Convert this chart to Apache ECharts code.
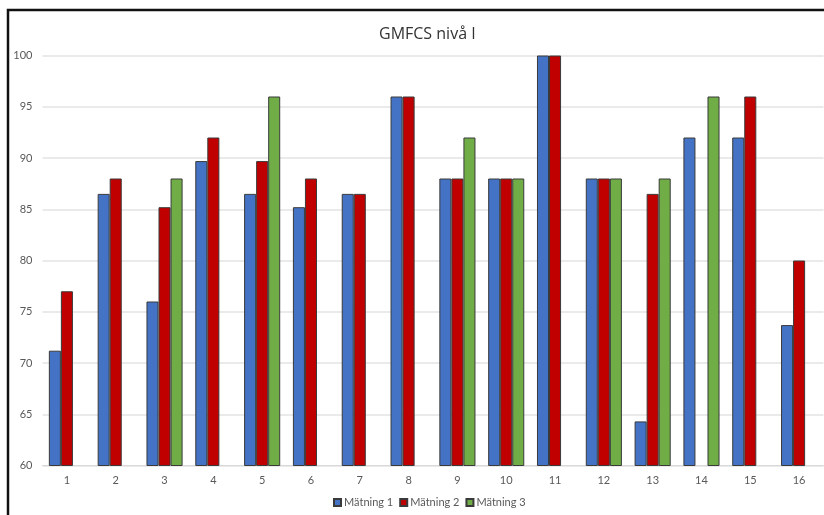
<!DOCTYPE html>
<html>
<head>
<meta charset="utf-8">
<script src="https://cdn.jsdelivr.net/npm/echarts@6/dist/echarts.min.js"></script>
<style>
  html, body { margin: 0; padding: 0; background: #ffffff; }
  #chart { width: 824px; height: 515px; }
</style>
</head>
<body>
<div id="chart"></div>
<script>
// Categories (participants) and the three measurement rounds
var categories = ['1','2','3','4','5','6','7','8','9','10','11','12','13','14','15','16'];
var matning1 = [71.2, 86.5, 76.0, 89.7, 86.5, 85.2, 86.5, 96.0, 88.0, 88.0, 100, 88.0, 64.3, 92.0, 92.0, 73.7];
var matning2 = [77.0, 88.0, 85.2, 92.0, 89.7, 88.0, 86.5, 96.0, 88.0, 88.0, 100, 88.0, 86.5, null, 96.0, 80.0];
var matning3 = [null, null, 88.0, null, 96.0, null, null, null, 92.0, 88.0, null, 88.0, 88.0, 96.0, null, null];
var seriesNames = ['Mätning 1', 'Mätning 2', 'Mätning 3'];
var colors = ['#4472C4', '#C00000', '#70AD47'];

var fontFamily = 'Lato, "Open Sans", "Liberation Sans", sans-serif';
var chart = echarts.init(document.getElementById('chart'), null, { renderer: 'canvas' });

function barSeries(name, data, color) {
  return {
    name: name,
    type: 'bar',
    data: data,
    barGap: '0%',
    barCategoryGap: '26%',
    itemStyle: { color: color, borderColor: '#3a3a3a', borderWidth: 1 }
  };
}

chart.setOption({
  animation: false,
  backgroundColor: '#ffffff',
  title: {
    text: 'GMFCS nivå I',
    left: 374,
    top: 21,
    textStyle: { fontFamily: '"Open Sans", sans-serif', fontSize: 16, fontWeight: 'normal', color: '#333333' }
  },
  legend: {
    data: seriesNames,
    bottom: 2,
    left: 328,
    itemWidth: 7,
    itemHeight: 7,
    itemGap: 6,
    icon: 'rect',
    textStyle: { fontFamily: fontFamily, fontSize: 11, color: '#595959', padding: [0, 0, 0, -2] }
  },
  grid: { left: 42.5, right: 0.5, top: 55.5, bottom: 49.5, containLabel: false },
  xAxis: {
    type: 'category',
    data: categories,
    axisLine: { show: true, lineStyle: { color: '#d9d9d9', width: 1 } },
    axisTick: { show: false },
    axisLabel: { fontFamily: fontFamily, fontSize: 11, color: '#595959', margin: 9 }
  },
  yAxis: {
    type: 'value',
    min: 60,
    max: 100,
    interval: 5,
    axisLine: { show: false },
    axisTick: { show: false },
    axisLabel: { fontFamily: fontFamily, fontSize: 11, color: '#595959', margin: 10 },
    splitLine: { lineStyle: { color: '#e3e3e3', width: 1.5 } }
  },
  series: [
    barSeries(seriesNames[0], matning1, colors[0]),
    barSeries(seriesNames[1], matning2, colors[1]),
    barSeries(seriesNames[2], matning3, colors[2])
  ],
  graphic: [
    {
      type: 'polyline',
      silent: true,
      shape: { points: [[8, 515], [8, 10], [824, 10]] },
      style: { stroke: '#111111', lineWidth: 2.5, fill: null }
    }
  ]
});
</script>
</body>
</html>
